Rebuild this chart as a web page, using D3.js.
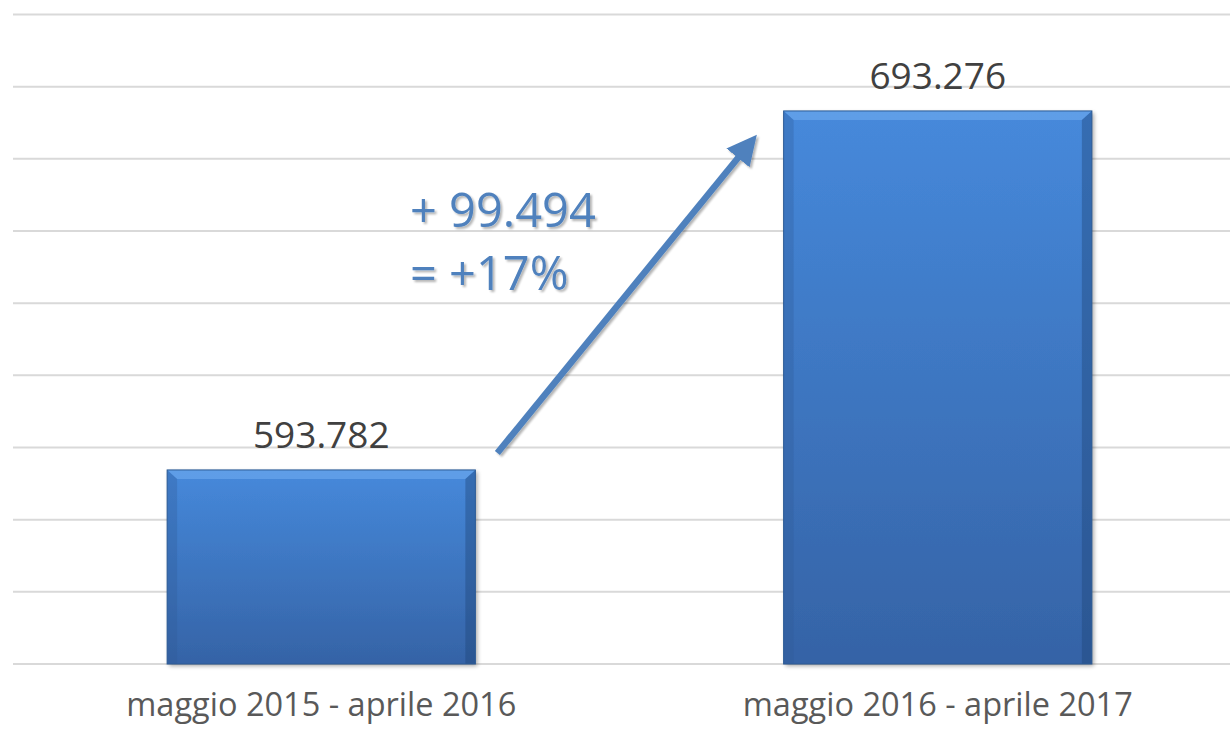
<!DOCTYPE html>
<html><head><meta charset="utf-8">
<script src="https://cdn.jsdelivr.net/npm/d3@7"></script>
<style>html,body{margin:0;padding:0;background:#fff;}svg{display:block;}</style>
</head><body>
<svg id="chart" width="1230" height="733"></svg>
<script>
const categories = ["maggio 2015 - aprile 2016", "maggio 2016 - aprile 2017"];
const values = [593782, 693276];
const valueLabels = ["593.782", "693.276"];
const yTicks = [540000, 560000, 580000, 600000, 620000, 640000, 660000, 680000, 700000, 720000];
const annotationLines = ["+ 99.494", "= +17%"];

const svg = d3.select("#chart");
const W = 1230, H = 733;
const x = d3.scaleBand().domain(categories).range([13, 1246]).paddingInner(0.5).paddingOuter(0.25);
const y = d3.scaleLinear().domain([540000, 720000]).range([664, 14.5]);

const defs = svg.append("defs");
const g = defs.append("linearGradient").attr("id","barGrad").attr("x1",0).attr("y1",0).attr("x2",0).attr("y2",1);
g.append("stop").attr("offset","0%").attr("stop-color","#4689db");
g.append("stop").attr("offset","100%").attr("stop-color","#3563a6");
const f = defs.append("filter").attr("id","sh").attr("x","-10%").attr("y","-10%").attr("width","130%").attr("height","130%");
f.append("feGaussianBlur").attr("in","SourceAlpha").attr("stdDeviation",2);
f.append("feOffset").attr("dx",2).attr("dy",2).attr("result","b");
f.append("feComponentTransfer").append("feFuncA").attr("type","linear").attr("slope",0.35);
const m = f.append("feMerge"); m.append("feMergeNode"); m.append("feMergeNode").attr("in","SourceGraphic");
const tf = defs.append("filter").attr("id","tsh").attr("x","-10%").attr("y","-10%").attr("width","130%").attr("height","130%");
tf.append("feGaussianBlur").attr("in","SourceAlpha").attr("stdDeviation",1);
tf.append("feOffset").attr("dx",2).attr("dy",2).attr("result","b");
tf.append("feComponentTransfer").append("feFuncA").attr("type","linear").attr("slope",0.3);
const tm = tf.append("feMerge"); tm.append("feMergeNode"); tm.append("feMergeNode").attr("in","SourceGraphic");
defs.append("marker").attr("id","ah").attr("viewBox","0 0 10 10").attr("refX",3).attr("refY",5)
  .attr("markerWidth",4.6).attr("markerHeight",4.6).attr("orient","auto").attr("markerUnits","strokeWidth")
  .append("path").attr("d","M0,0 L10,5 L0,10 Z").attr("fill","#4f81bd");

// gridlines
svg.append("g").selectAll("line").data(yTicks).join("line")
  .attr("x1",13).attr("x2",W).attr("y1",d=>y(d)).attr("y2",d=>y(d))
  .attr("stroke","#d9d9d9").attr("stroke-width",2);

// bars
const bars = svg.append("g").selectAll("g").data(categories).join("g");
bars.append("rect").attr("x",d=>x(d)).attr("width",x.bandwidth())
  .attr("y",(d,i)=>y(values[i])).attr("height",(d,i)=>y(540000)-y(values[i]))
  .attr("fill","url(#barGrad)").attr("filter","url(#sh)");
bars.append("path").attr("d",(d,i)=>{const x0=x(d),x1=x0+x.bandwidth(),y0=y(values[i]);return `M${x0},${y0}L${x1},${y0}L${x1-10},${y0+9}L${x0+10},${y0+9}Z`;})
  .attr("fill","#6aa6ec").attr("opacity",0.7);
bars.append("path").attr("d",(d,i)=>{const x0=x(d),y0=y(values[i]),y1=y(540000);return `M${x0},${y0}L${x0+10},${y0+9}L${x0+10},${y1}L${x0},${y1}Z`;})
  .attr("fill","#2d5a96").attr("opacity",0.3);
bars.append("path").attr("d",(d,i)=>{const x1=x(d)+x.bandwidth(),y0=y(values[i]),y1=y(540000);return `M${x1},${y0}L${x1-10},${y0+9}L${x1-10},${y1}L${x1},${y1}Z`;})
  .attr("fill","#1e4476").attr("opacity",0.4);
bars.append("rect").attr("x",d=>x(d)).attr("width",x.bandwidth())
  .attr("y",(d,i)=>y(values[i])).attr("height",(d,i)=>y(540000)-y(values[i]))
  .attr("fill","none").attr("stroke","#2c5a94").attr("stroke-width",1);

// value labels
svg.append("g").selectAll("text").data(categories).join("text")
  .attr("x",d=>x(d)+x.bandwidth()/2).attr("y",(d,i)=>y(values[i])-22)
  .attr("text-anchor","middle").attr("font-family","Open Sans").attr("font-size",37)
  .attr("fill","#404040").text((d,i)=>valueLabels[i]);

// category labels
svg.append("g").selectAll("text").data(categories).join("text")
  .attr("x",d=>x(d)+x.bandwidth()/2).attr("y",716)
  .attr("text-anchor","middle").attr("font-family","Open Sans").attr("font-size",32.5)
  .attr("fill","#595959").text(d=>d);

// arrow
const x0 = x(categories[0]) + x.bandwidth() + 22, y0 = y(values[0]) - 17;
const x1 = x(categories[1]) - 40, y1 = y(values[1]) + 40;
svg.append("line").attr("x1",x0).attr("y1",y0).attr("x2",x1).attr("y2",y1)
  .attr("stroke","#4f81bd").attr("stroke-width",6.5).attr("marker-end","url(#ah)").attr("filter","url(#tsh)");

// annotation
svg.append("g").selectAll("text").data(annotationLines).join("text")
  .attr("x",410).attr("y",(d,i)=>227+i*63)
  .attr("font-family","Open Sans").attr("font-weight",500).attr("font-size",47)
  .attr("fill","#4f81bd").attr("filter","url(#tsh)").text(d=>d);
</script>
</body></html>
